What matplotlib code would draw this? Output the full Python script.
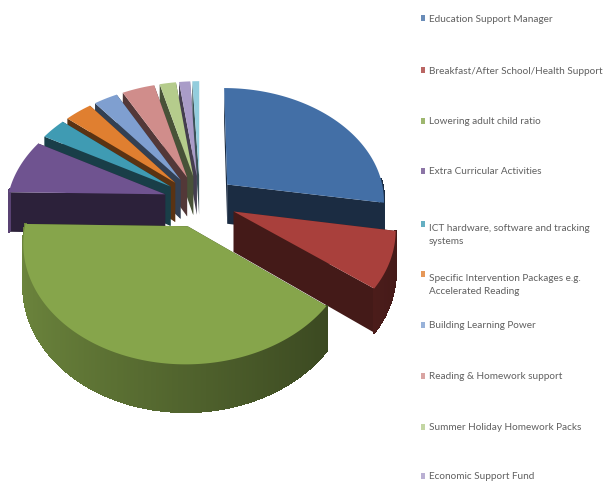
import numpy as np
import matplotlib
matplotlib.use('Agg')
import matplotlib.pyplot as plt
from matplotlib.collections import PolyCollection
from matplotlib.patches import Polygon, Rectangle

# legend only shows ten names, the last (eleventh) slice has no readable label
categories = ['Education Support Manager', 'Breakfast/After School/Health Support',
              'Lowering adult child ratio', 'Extra Curricular Activities',
              'ICT hardware, software and tracking\nsystems',
              'Specific Intervention Packages e.g.\nAccelerated Reading',
              'Building Learning Power', 'Reading & Homework support',
              'Summer Holiday Homework Packs', 'Economic Support Fund']
values = [27.4, 7.8, 39.5, 7.7, 3.0, 3.2, 2.8, 3.8, 1.9, 1.3, 0.8]

colors = ['#436fa6', '#a9403c', '#86a54b', '#6f5390', '#3f9bb3', '#e07f30',
          '#7f9fd0', '#d08d8b', '#b5cc8c', '#a99cc8', '#93cddd']
legend_y = [19, 71, 122, 172, 235, 285, 326, 377, 428, 477]

# pie geometry, in pixels of the 607x485 picture
CX, CY = 200, 202
RX, RY = 158, 113
PERSP = 0.13
DEPTH = 40
EXPLODE = 0.23


def project(ang, r, off_u, off_v, z=0.0):
    ang = np.radians(ang)
    u = off_u + r * np.cos(ang)
    v = off_v + r * np.sin(ang)
    s = 1 / (1 + PERSP * v)
    return CX + RX * u * s, CY - RY * v * s + DEPTH * z * s


def shade(col, f):
    return tuple(c * f for c in matplotlib.colors.to_rgb(col))


fig = plt.figure(figsize=(6.07, 4.85), dpi=100)
ax = fig.add_axes([0, 0, 1, 1])
ax.set_xlim(0, 607)
ax.set_ylim(485, 0)
ax.axis('off')

sweeps = np.array(values) / sum(values) * 360
ends = 90 - np.cumsum(sweeps)
starts = ends + sweeps
mids = (starts + ends) / 2

# far slices first so the near ones cover them
order = np.argsort(-np.sin(np.radians(mids)))
for n, i in enumerate(order):
    off_u = EXPLODE * np.cos(np.radians(mids[i]))
    off_v = EXPLODE * np.sin(np.radians(mids[i]))
    angs = np.linspace(starts[i], ends[i], max(int(sweeps[i]), 3) * 2)
    z0 = 10 + n * 4

    # flat sides of the slice
    apex_t = project(0, 0, off_u, off_v)
    apex_b = project(0, 0, off_u, off_v, 1)
    for a in (starts[i], ends[i]):
        pts = [apex_t, project(a, 1, off_u, off_v), project(a, 1, off_u, off_v, 1), apex_b]
        ax.add_patch(Polygon(pts, closed=True, fc=shade(colors[i], 0.4), ec='none', zorder=z0))

    # curved outer wall, darker towards the right, only the part facing the viewer
    quads, cols = [], []
    for a0, a1 in zip(angs[:-1], angs[1:]):
        mid = np.radians((a0 + a1) / 2)
        if np.sin(mid) > 0.05:
            continue
        quads.append([project(a0, 1, off_u, off_v), project(a1, 1, off_u, off_v),
                      project(a1, 1, off_u, off_v, 1), project(a0, 1, off_u, off_v, 1)])
        cols.append(shade(colors[i], 0.6 - 0.2 * np.cos(mid)))
    if quads:
        ax.add_collection(PolyCollection(quads, facecolors=cols, edgecolors=cols, linewidths=1.0,
                                         antialiaseds=False, zorder=z0 + 1))

    # top face
    top = [apex_t] + [project(a, 1, off_u, off_v) for a in angs]
    ax.add_patch(Polygon(top, closed=True, fc=colors[i], ec='none', zorder=z0 + 2))

# legend, spaced by hand like the original
for name, col, y in zip(categories, colors, legend_y):
    n_lines = name.count('\n') + 1
    y_first = y - 10 * (n_lines - 1)
    ax.add_patch(Rectangle((421, y_first - 3), 4, 6, fc=col, ec='none', alpha=0.8, zorder=60))
    ax.text(429, y, name, fontsize=7.2, family='Lato', color='#606060', va='center', ha='left',
            linespacing=1.7, zorder=60)

fig.savefig('out.png', dpi=100)
